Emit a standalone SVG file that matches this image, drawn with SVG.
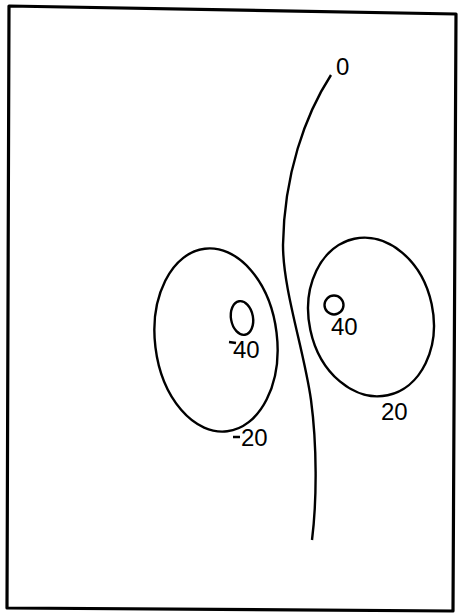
<svg xmlns="http://www.w3.org/2000/svg" width="458" height="614" viewBox="0 0 458 614">
<style>
.c{fill:none;stroke:#000;stroke-width:2.4}
.t{font-family:"Liberation Sans",Arial,sans-serif;font-size:24px;fill:#000}
</style>
<rect width="458" height="614" fill="#fff"/>
<path d="M9,6 L456,14 L453,611 L7,608 Z" fill="none" stroke="#000" stroke-width="3.2" stroke-linejoin="round"/>
<g id="contours">
<path id="zero" class="c" stroke-width="2" d="M331,75 C305,115 284,175 283,245 C283,290 304,350 311,400 C317,445 317,500 312,540"/>
<ellipse id="neg20" class="c" cx="216" cy="340" rx="61" ry="92" transform="rotate(-7 216 340)"/>
<ellipse id="neg40" class="c" cx="242" cy="318" rx="11" ry="17" transform="rotate(-10 242 318)"/>
<ellipse id="pos20" class="c" cx="371" cy="317" rx="62" ry="80" transform="rotate(-12 371 317)"/>
<circle id="pos40" class="c" cx="334" cy="305" r="9.5"/>
</g>
<g id="labels">
<text class="t" x="336" y="75">0</text>
<path d="M229,342 L236,343" stroke="#000" stroke-width="2.5"/>
<text class="t" x="233" y="358">40</text>
<text class="t" x="331" y="335">40</text>
<path d="M233,437 L240,437" stroke="#000" stroke-width="2.5"/>
<text class="t" x="241" y="446">20</text>
<text class="t" x="381" y="420">20</text>
</g>
</svg>
